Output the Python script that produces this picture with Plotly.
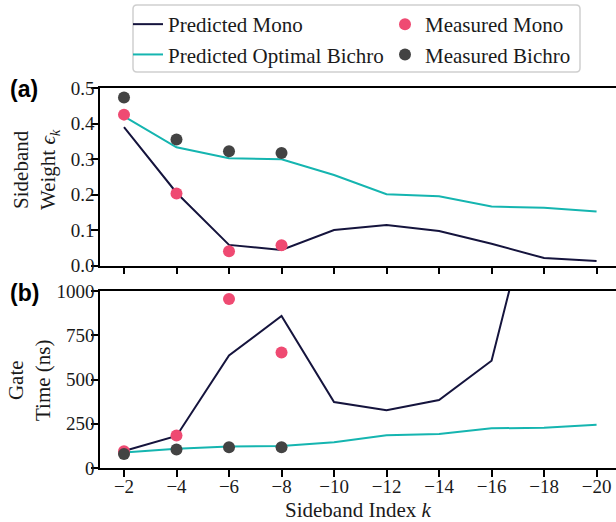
import plotly.graph_objects as go

k = [-2, -4, -6, -8, -10, -12, -14, -16, -18, -20]
k_meas = [-2, -4, -6, -8]

w_pred_mono = [0.39, 0.205, 0.058, 0.044, 0.100, 0.114, 0.097, 0.061, 0.021, 0.013]
w_pred_bichro = [0.420, 0.333, 0.302, 0.299, 0.255, 0.201, 0.195, 0.166, 0.163, 0.152]
w_meas_mono = [0.425, 0.203, 0.040, 0.057]
w_meas_bichro = [0.473, 0.355, 0.322, 0.317]

t_pred_mono = [96, 181, 636, 859, 373, 326, 384, 606, 1780, 2600]
t_pred_bichro = [88, 109, 122, 124, 145, 185, 192, 224, 228, 245]
t_meas_mono = [94, 183, 955, 653]
t_meas_bichro = [79, 104, 117, 117]

C_MONO = "#15143d"
C_BICHRO = "#15b5b0"
C_MMONO = "#ef4a72"
C_MBICHRO = "#434343"
SERIF = "Liberation Serif"
TXT = "#1a1a1a"

W, H = 616, 522
L, R, T, B = 100, 0, 88, 54
PW, PH = W - L - R, H - T - B


def px_x(p):
    return (p - L) / PW


def px_y(p):
    return (H - B - p) / PH


fig = go.Figure()


def add(xa, ya, pm, pb, mm, mb, show):
    fig.add_trace(go.Scatter(x=k, y=pm, mode="lines", name="Predicted Mono",
                             line=dict(color=C_MONO, width=2), showlegend=show,
                             legend="legend", xaxis=xa, yaxis=ya))
    fig.add_trace(go.Scatter(x=k, y=pb, mode="lines", name="Predicted Optimal Bichro",
                             line=dict(color=C_BICHRO, width=2), showlegend=show,
                             legend="legend", xaxis=xa, yaxis=ya))
    fig.add_trace(go.Scatter(x=k_meas, y=mm, mode="markers", name="Measured Mono",
                             marker=dict(color=C_MMONO, size=12), showlegend=show,
                             legend="legend2", xaxis=xa, yaxis=ya))
    fig.add_trace(go.Scatter(x=k_meas, y=mb, mode="markers", name="Measured Bichro",
                             marker=dict(color=C_MBICHRO, size=12), showlegend=show,
                             legend="legend2", xaxis=xa, yaxis=ya))


add("x", "y", w_pred_mono, w_pred_bichro, w_meas_mono, w_meas_bichro, True)
add("x2", "y2", t_pred_mono, t_pred_bichro, t_meas_mono, t_meas_bichro, False)

top_dom = [px_y(265.5), 1]
bot_dom = [0, px_y(291)]

xcommon = dict(range=[-1.086, -20.74], tickvals=k, ticks="outside", ticklen=7, tickwidth=1.5,
               tickcolor="black", showline=True, linecolor="black", linewidth=1.5,
               mirror=True, showgrid=False, zeroline=False, domain=[0, 1],
               tickfont=dict(family=SERIF, size=19, color=TXT))
ycommon = dict(ticks="outside", ticklen=7, tickwidth=1.5, tickcolor="black",
               showline=True, linecolor="black", linewidth=1.5, mirror=False,
               showgrid=False, zeroline=False,
               tickfont=dict(family=SERIF, size=19, color=TXT))

fig.update_layout(
    xaxis=dict(**xcommon, anchor="y", showticklabels=False),
    yaxis=dict(**ycommon, domain=top_dom, anchor="x", range=[0, 0.5],
               tickvals=[0, 0.1, 0.2, 0.3, 0.4, 0.5], tickformat=".1f"),
    xaxis2=dict(**xcommon, anchor="y2"),
    yaxis2=dict(**ycommon, domain=bot_dom, anchor="x2", range=[0, 1000],
                tickvals=[0, 250, 500, 750, 1000]),
)

try:
    fig.update_xaxes(ticklabelstandoff=-7)
    fig.update_yaxes(ticklabelstandoff=-7)
except Exception:
    pass

ann_font = dict(family=SERIF, size=21, color=TXT)
fig.add_annotation(text="Sideband<br>Weight <i>ϵ<sub>k</sub></i>", xref="paper", yref="paper",
                   x=px_x(36), y=px_y(170), textangle=-90, showarrow=False,
                   xanchor="center", yanchor="middle", font=ann_font)
fig.add_annotation(text="Gate<br>Time (ns)", xref="paper", yref="paper",
                   x=px_x(29), y=px_y(380), textangle=-90, showarrow=False,
                   xanchor="center", yanchor="middle", font=ann_font)
fig.add_annotation(text="Sideband Index <i>k</i>", xref="paper", yref="paper",
                   x=0.5, y=px_y(510), showarrow=False,
                   xanchor="center", yanchor="middle", font=ann_font)

fig.add_annotation(text="<b>(a)</b>", xref="paper", yref="paper", x=px_x(8), y=px_y(89),
                   xanchor="left", yanchor="middle", showarrow=False,
                   font=dict(family="Liberation Sans", size=23, color="black"))
fig.add_annotation(text="<b>(b)</b>", xref="paper", yref="paper", x=px_x(8), y=px_y(293),
                   xanchor="left", yanchor="middle", showarrow=False,
                   font=dict(family="Liberation Sans", size=23, color="black"))

# rounded legend frame
bx0, bx1, by0, by1, r = 133, 580, 5, 72, 4
rx, ry = r / PW, r / PH
X0, X1, Y0, Y1 = px_x(bx0), px_x(bx1), px_y(by1), px_y(by0)
path = (f"M {X0+rx},{Y0} L {X1-rx},{Y0} Q {X1},{Y0} {X1},{Y0+ry} "
        f"L {X1},{Y1-ry} Q {X1},{Y1} {X1-rx},{Y1} L {X0+rx},{Y1} "
        f"Q {X0},{Y1} {X0},{Y1-ry} L {X0},{Y0+ry} Q {X0},{Y0} {X0+rx},{Y0} Z")
fig.add_shape(type="path", path=path, xref="paper", yref="paper",
              line=dict(color="#cfcfcf", width=1.5), fillcolor="white", layer="below")

leg_common = dict(orientation="v", xref="container", yref="container", xanchor="left",
                  yanchor="top", itemwidth=30, bgcolor="rgba(0,0,0,0)", borderwidth=0,
                  font=dict(family=SERIF, size=21, color=TXT), tracegroupgap=0)

fig.update_layout(
    width=W, height=H,
    margin=dict(l=L, r=R, t=T, b=B, autoexpand=False),
    plot_bgcolor="white", paper_bgcolor="white",
    legend=dict(**leg_common, x=128 / W, y=1 - 4 / H),
    legend2=dict(**leg_common, x=385 / W, y=1 - 4 / H),
)

fig.write_html("out.html", config={"displayModeBar": False},
               post_script="document.body.style.margin='0px';document.body.style.overflow='hidden';")
